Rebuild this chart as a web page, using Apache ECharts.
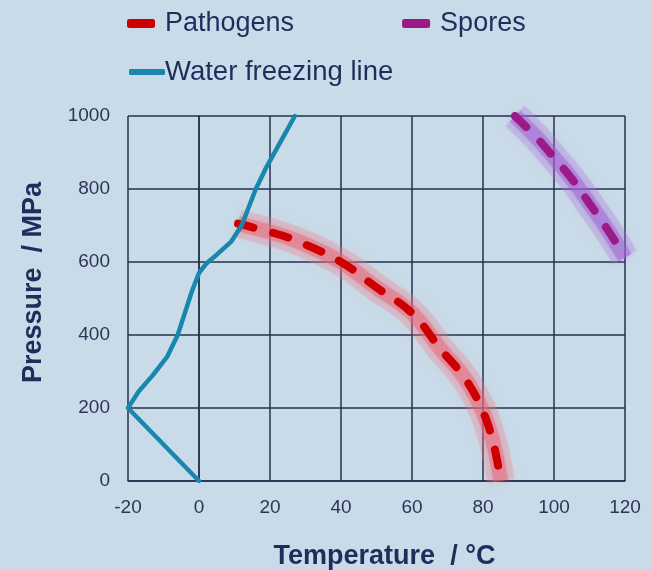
<!DOCTYPE html>
<html>
<head>
<meta charset="utf-8">
<script src="https://cdn.jsdelivr.net/npm/echarts@6/dist/echarts.min.js"></script>
<style>
  html, body { margin: 0; padding: 0; background: #c9dbe8; }
  #chart { width: 652px; height: 570px; }
</style>
</head>
<body>
<div id="chart"></div>
<script>
// temperature (°C), pressure (MPa) pairs
var pathogens = [[11, 705], [20, 682], [27, 660], [40, 600], [50, 530], [60, 460], [68, 362], [75, 280], [80, 190], [83, 100], [85, 0]];
var spores = [[89, 1000], [95, 942], [100, 886], [105, 828], [110, 760], [115, 690], [120, 612]];
var waterLine = [[0, 0], [-20, 200], [-17, 245], [-13, 290], [-9, 340], [-6, 400], [-4, 460], [-2, 520], [0, 570], [2, 595], [5, 620], [9, 655], [12, 700], [14, 750], [16, 800], [19, 860], [23, 930], [27, 1000]];

var textColor = '#1f2c5c';
var gridColor = '#243150';

// soft halo drawn under a dashed curve
function glow(data, rgb, width, alpha, blur) {
    return {
        type: 'line', data: data, smooth: 0.4, symbol: 'none', silent: true, z: 1,
        lineStyle: {
            width: width, color: 'rgba(' + rgb + ',' + alpha + ')', cap: 'butt',
            shadowBlur: blur, shadowColor: 'rgba(' + rgb + ',' + alpha + ')'
        }
    };
}

var chart = echarts.init(document.getElementById('chart'));
chart.setOption({
    backgroundColor: '#c9dbe8',
    textStyle: { fontFamily: 'Liberation Sans' },
    legend: [
        {
            data: ['Pathogens', 'Spores'],
            left: 122, top: 5,
            itemWidth: 28, itemHeight: 9, itemGap: 108,
            icon: 'roundRect',
            textStyle: { fontSize: 27, color: textColor, padding: [0, 0, 0, 5] }
        },
        {
            data: ['Water freezing line'],
            left: 124, top: 53,
            itemWidth: 36, itemHeight: 6,
            icon: 'roundRect',
            textStyle: { fontSize: 27.5, color: textColor, padding: [0, 0, 0, -5] }
        }
    ],
    grid: { left: 128, right: 27, top: 116, bottom: 89, outerBoundsMode: 'none' },
    xAxis: {
        type: 'value', min: -20, max: 120, interval: 20,
        name: 'Temperature  / °C', nameLocation: 'middle', nameGap: 62,
        nameTextStyle: { fontSize: 27, fontWeight: 'bold', color: textColor, padding: [0, 0, 0, 16] },
        axisLine: { lineStyle: { color: gridColor, width: 1.5 } },
        axisTick: { show: false },
        axisLabel: { fontSize: 19, color: '#2b3556', margin: 17 },
        splitLine: { lineStyle: { color: gridColor, width: 1.5 } }
    },
    yAxis: {
        type: 'value', min: 0, max: 1000, interval: 200,
        name: 'Pressure  / MPa', nameLocation: 'middle', nameGap: 81,
        nameTextStyle: { fontSize: 27, fontWeight: 'bold', color: textColor, padding: [0, 0, 0, 32] },
        axisLine: { show: true, lineStyle: { color: gridColor, width: 1.5 } },
        axisTick: { show: false },
        axisLabel: {
            fontSize: 19, color: '#2b3556', margin: 18,
            formatter: function (v) { return String(v); }
        },
        splitLine: { lineStyle: { color: gridColor, width: 1.5 } }
    },
    series: [
        glow(pathogens, '240,125,140', 28, 0.28, 10),
        glow(pathogens, '236,95,115', 15, 0.45, 6),
        glow(spores, '175,115,220', 28, 0.28, 10),
        glow(spores, '160,90,210', 15, 0.45, 6),
        {
            name: 'Pathogens', type: 'line', data: pathogens, smooth: 0.4,
            symbol: 'none', z: 3, color: '#cc0000',
            lineStyle: { width: 8, color: '#cc0000', type: [16, 20], cap: 'round' }
        },
        {
            name: 'Spores', type: 'line', data: spores, smooth: 0.4,
            symbol: 'none', z: 3, color: '#9b1a86',
            lineStyle: { width: 8, color: '#9b1a86', type: [16, 20], cap: 'round' }
        },
        {
            name: 'Water freezing line', type: 'line', data: waterLine, smooth: false,
            symbol: 'none', z: 4, color: '#1787ad',
            lineStyle: { width: 4.5, color: '#1787ad', cap: 'round', join: 'round' }
        }
    ]
});
</script>
</body>
</html>
